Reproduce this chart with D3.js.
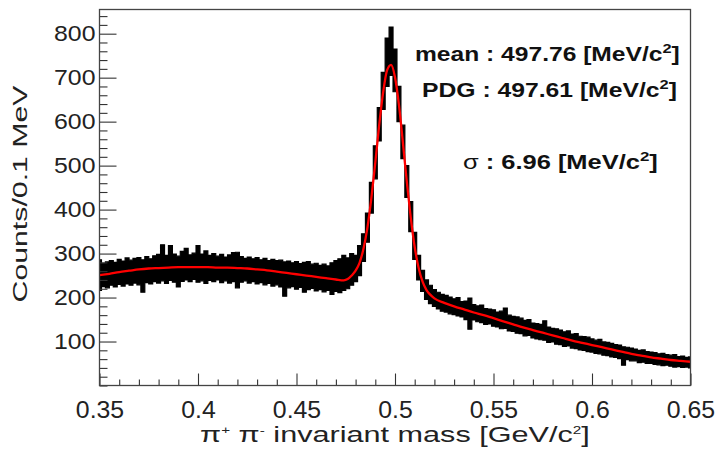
<!DOCTYPE html>
<html>
<head>
<meta charset="utf-8">
<script src="https://cdn.jsdelivr.net/npm/d3@7"></script>
<style>
  body { margin: 0; background: #fff; }
  svg { display: block; font-family: "Liberation Sans", Arial, Helvetica, sans-serif; }
</style>
</head>
<body>
<svg id="chart" width="717" height="455"></svg>
<script>
// histogram envelope, one value per 2 MeV step from 0.350 to 0.650 GeV
const bandHigh = [
  286, 278, 281, 284, 280, 287, 283, 290, 285, 289,
  291, 286, 293, 288, 295, 298, 320, 296, 318, 299,
  294, 305, 312, 297, 301, 318, 299, 306, 296, 300,
  294, 298, 292, 297, 302, 303, 293, 289, 292, 288,
  291, 286, 289, 284, 287, 284, 285, 281, 283, 279,
  282, 277, 280, 282, 276, 278, 273, 276, 272, 279,
  284, 288, 296, 290, 300, 296, 318, 345, 392, 462,
  545, 632, 712, 790, 815, 765, 680, 592, 500, 418,
  348, 296, 262, 240, 228, 218, 212, 207, 205, 201,
  197, 200, 191, 192, 199, 184, 181, 183, 175, 174,
  172, 167, 169, 176, 160, 157, 156, 153, 148, 150,
  142, 141, 139, 147, 133, 130, 129, 126, 122, 124,
  117, 118, 112, 111, 110, 106, 103, 105, 99, 98,
  96, 93, 92, 88, 87, 85, 83, 80, 81, 77,
  76, 75, 72, 73, 70, 69, 70, 66, 67, 64,
  65
];
const bandLow = [
  216, 225, 222, 228, 224, 230, 226, 231, 228, 233,
  229, 212, 234, 231, 236, 233, 238, 232, 239, 235,
  224, 237, 240, 236, 241, 235, 238, 232, 239, 236,
  240, 234, 238, 233, 236, 222, 235, 238, 233, 236,
  231, 234, 229, 232, 226, 229, 224, 203, 222, 225,
  219, 223, 212, 218, 221, 215, 218, 213, 216, 207,
  214, 211, 216, 220, 228, 236, 250, 282, 326, 392,
  470, 556, 628, 680, 705, 668, 600, 516, 428, 350,
  287, 240, 214, 196, 186, 180, 174, 169, 167, 163,
  161, 158, 156, 150, 128, 149, 145, 143, 139, 140,
  135, 133, 129, 130, 124, 123, 119, 118, 113, 114,
  108, 106, 104, 103, 98, 99, 94, 93, 89, 90,
  85, 84, 81, 80, 77, 76, 73, 72, 69, 68,
  65, 64, 61, 46, 59, 56, 56, 52, 53, 50,
  50, 48, 47, 45, 46, 44, 42, 43, 41, 42,
  40
];

// fit curve
const fitMass = [
  0.350, 0.355, 0.360, 0.365, 0.370, 0.375, 0.380, 0.385, 0.390, 0.395,
  0.400, 0.405, 0.410, 0.415, 0.420, 0.425, 0.430, 0.435, 0.440, 0.445,
  0.450, 0.455, 0.460, 0.465, 0.470, 0.474, 0.476, 0.478, 0.480, 0.482,
  0.484, 0.486, 0.488, 0.490, 0.492, 0.494, 0.496, 0.498, 0.500, 0.502,
  0.504, 0.506, 0.508, 0.510, 0.512, 0.514, 0.516, 0.518, 0.520, 0.525,
  0.530, 0.535, 0.540, 0.545, 0.550, 0.555, 0.560, 0.565, 0.570, 0.575,
  0.580, 0.585, 0.590, 0.595, 0.600, 0.605, 0.610, 0.615, 0.620, 0.625,
  0.630, 0.635, 0.640, 0.645, 0.650
];
const fitCounts = [
  251, 254, 258, 261, 264, 266, 267, 268, 269, 269,
  269, 269, 268, 268, 267, 266, 264, 262, 259, 256,
  253, 250, 247, 244, 241, 239, 242, 250, 261, 279,
  311, 359, 426, 507, 593, 667, 717, 729, 701, 638,
  553, 463, 382, 315, 267, 236, 217, 206, 198, 188,
  180, 173, 166, 160, 153, 146, 139, 132, 126, 120,
  114, 108, 102, 97, 92, 87, 82, 77, 72, 68,
  64, 61, 58, 56, 54
];

const xMajorTicks = [0.35, 0.4, 0.45, 0.5, 0.55, 0.6, 0.65];
const yMajorTicks = [100, 200, 300, 400, 500, 600, 700, 800];

const svg = d3.select("#chart");
const plotLeft = 99.5, plotRight = 690.5, plotTop = 9.5, plotBottom = 385.5;

const x = d3.scaleLinear().domain([0.35, 0.65]).range([plotLeft, plotRight]);
const y = d3.scaleLinear().domain([0, 855]).range([plotBottom, plotTop]);

const binMass = bandHigh.map((d, i) => +(0.35 + i * 0.002).toFixed(3));

svg.append("rect").attr("width", 717).attr("height", 455).attr("fill", "#fff");

svg.append("clipPath").attr("id", "plotclip")
  .append("rect").attr("x", plotLeft).attr("y", plotTop)
  .attr("width", plotRight - plotLeft).attr("height", plotBottom - plotTop);

// noisy histogram band
const band = d3.area()
  .x((d, i) => x(binMass[i]))
  .y0((d, i) => y(bandLow[i]))
  .y1((d, i) => y(bandHigh[i]))
  .curve(d3.curveStep);

svg.append("path")
  .datum(bandHigh)
  .attr("clip-path", "url(#plotclip)")
  .attr("d", band)
  .attr("fill", "#000")
  .attr("stroke", "#000")
  .attr("stroke-width", 1.2);

// red fit
const fitLine = d3.line()
  .x((d, i) => x(fitMass[i]))
  .y(d => y(d))
  .curve(d3.curveMonotoneX);

svg.append("path")
  .datum(fitCounts)
  .attr("clip-path", "url(#plotclip)")
  .attr("d", fitLine)
  .attr("fill", "none")
  .attr("stroke", "#ff0000")
  .attr("stroke-width", 2.3);

// axes
const yMinor = d3.range(0, 855, 20).filter(v => v % 100 !== 0 || v === 0);
const xMinor = d3.range(35, 66).map(v => v / 100).filter(v => !xMajorTicks.includes(v));

svg.append("g").attr("transform", `translate(${plotLeft},0)`)
  .call(d3.axisLeft(y).tickValues(yMinor).tickSize(-8).tickSizeOuter(0).tickFormat(""))
  .call(g => g.select(".domain").remove());

const yAxis = svg.append("g").attr("transform", `translate(${plotLeft},0)`)
  .call(d3.axisLeft(y).tickValues(yMajorTicks).tickSize(-17).tickSizeOuter(0).tickPadding(4).tickFormat(d3.format("d")))
  .call(g => g.select(".domain").remove());

yAxis.selectAll("text")
  .attr("font-size", 22)
  .attr("fill", "#222")
  .attr("transform", "translate(-4,0) scale(1.13,1) translate(4,0)");

svg.append("g").attr("transform", `translate(0,${plotBottom})`)
  .call(d3.axisBottom(x).tickValues(xMinor).tickSize(-6).tickSizeOuter(0).tickFormat(""))
  .call(g => g.select(".domain").remove());

const xAxis = svg.append("g").attr("transform", `translate(0,${plotBottom})`)
  .call(d3.axisBottom(x).tickValues(xMajorTicks).tickSize(-12).tickSizeOuter(0).tickPadding(16)
    .tickFormat(d => String(+d.toFixed(2))))
  .call(g => g.select(".domain").remove());

xAxis.selectAll("text")
  .attr("font-size", 23)
  .attr("fill", "#222")
  .attr("transform", "scale(1.08,1)");

svg.selectAll(".tick line").attr("stroke", "#333").attr("stroke-width", 1.1);

// frame
svg.append("rect")
  .attr("x", plotLeft).attr("y", plotTop)
  .attr("width", plotRight - plotLeft).attr("height", plotBottom - plotTop)
  .attr("fill", "none").attr("stroke", "#444").attr("stroke-width", 1.3);

// stretch a text horizontally so it covers a given width, anchored at x0
function stretchTo(sel, width, x0) {
  const w = sel.node().getBBox().width;
  const s = width / w;
  sel.attr("transform", `translate(${x0},0) scale(${s},1) translate(${-x0},0)`);
}

// x title (superscript shifts in px so the baseline comes back exactly)
const xTitle = svg.append("text")
  .attr("x", 200).attr("y", 442)
  .attr("font-size", 22).attr("fill", "#222");
xTitle.append("tspan").text("π");
xTitle.append("tspan").attr("dy", -8).attr("font-size", 11).text("+");
xTitle.append("tspan").attr("dy", 8).text(" π");
xTitle.append("tspan").attr("dy", -8).attr("font-size", 11).text("-");
xTitle.append("tspan").attr("dy", 8).text(" invariant mass [GeV/c");
xTitle.append("tspan").attr("dy", -8).attr("font-size", 11).text("2");
xTitle.append("tspan").attr("dy", 8).text("]");
stretchTo(xTitle, 390, 200);

// y title
const yTitleG = svg.append("g").attr("transform", "translate(27,194) rotate(-90)");
const yTitle = yTitleG.append("text")
  .attr("x", 0).attr("y", 0)
  .attr("text-anchor", "middle")
  .attr("font-size", 20).attr("fill", "#222")
  .text("Counts/0.1 MeV");
stretchTo(yTitle, 218, 0);

// fit results
function resultLine(x0, yb, width, parts) {
  const t = svg.append("text")
    .attr("x", x0).attr("y", yb)
    .attr("font-size", 19.5).attr("font-weight", "bold").attr("fill", "#111");
  parts.forEach(p => {
    const s = t.append("tspan").text(p.text);
    if (p.sup) s.attr("dy", -8).attr("font-size", 13);
    if (p.down) s.attr("dy", 8);
    if (p.normal) s.attr("font-weight", "normal");
  });
  stretchTo(t, width, x0);
}

resultLine(415, 61, 265, [
  { text: "mean : 497.76 [MeV/c" }, { text: "2", sup: true }, { text: "]", down: true }
]);
resultLine(422, 97, 255, [
  { text: "PDG : 497.61 [MeV/c" }, { text: "2", sup: true }, { text: "]", down: true }
]);
resultLine(463, 169, 195, [
  { text: "σ", normal: true }, { text: " :  6.96 [MeV/c" }, { text: "2", sup: true }, { text: "]", down: true }
]);
</script>
</body>
</html>
